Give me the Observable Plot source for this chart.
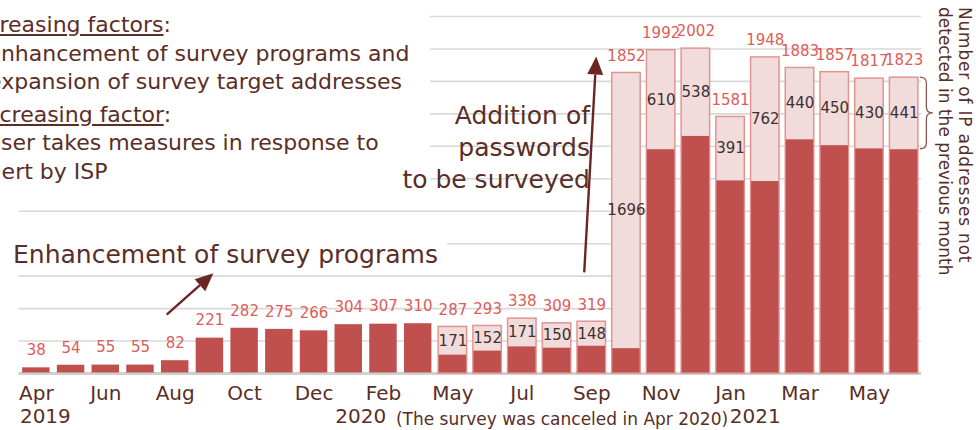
<!DOCTYPE html>
<html>
<head>
<meta charset="utf-8">
<script src="https://cdn.jsdelivr.net/npm/d3@7"></script>
<script src="https://cdn.jsdelivr.net/npm/@observablehq/plot@0.6"></script>
<style>
  body { margin: 0; background: #fff; }
  #wrap { position: relative; width: 976px; height: 430px; overflow: hidden;
          font-family: "DejaVu Sans", sans-serif; color: #5a2e26; }
  #wrap svg { position: absolute; left: 0; top: 0; }
  .box { position: absolute; background: #fff; white-space: nowrap; }
  #factors { left: 0; top: 0; width: 430px; height: 198px; font-size: 22px; line-height: 28.5px; padding-top: 11px; box-sizing: border-box; overflow: hidden; }
  #factors div { white-space: nowrap; }
  #factors .u { text-decoration: underline; text-underline-offset: 2px; }
  #enh { left: 0; top: 238px; width: 447px; height: 34px; font-size: 25px; line-height: 34px; padding-left: 13px; box-sizing: border-box; }
  #pw { position: absolute; right: 386px; top: 100px; font-size: 25px; line-height: 32px; text-align: right; white-space: nowrap; }
  #side { position: absolute; left: 935px; top: 7px; writing-mode: vertical-rl; font-size: 17px; line-height: 20px; white-space: nowrap; }
  #side .l1 { letter-spacing: 0.8px; }
</style>
</head>
<body>
<div id="wrap">
  <div class="box" id="factors">
    <div style="margin-left:-33px"><span class="u">Increasing factors</span>:</div>
    <div style="margin-left:-13px">Enhancement of survey programs and</div>
    <div style="margin-left:-12px">expansion of survey target addresses</div>
    <div style="margin-left:-31px;margin-top:4px"><span class="u">Decreasing factor</span>:</div>
    <div style="margin-left:-15px">User takes measures in response to</div>
    <div style="margin-left:-18px">alert by ISP</div>
  </div>
  <div class="box" id="enh">Enhancement of survey programs</div>
  <div id="pw">Addition of<br>passwords<br>to be surveyed</div>
  <div id="side"><span class="l1">Number of IP addresses not</span><br>detected in the previous month</div>
</div>
<script>
// ---- data ----
const months = [
  "2019-04","2019-05","2019-06","2019-07","2019-08","2019-09","2019-10","2019-11","2019-12",
  "2020-01","2020-02","2020-03","2020-05","2020-06","2020-07","2020-08","2020-09","2020-10",
  "2020-11","2020-12","2021-01","2021-02","2021-03","2021-04","2021-05","2021-06"
];
const totals = [38,54,55,55,82,221,282,275,266,304,307,310,287,293,338,309,319,1852,1992,2002,1581,1948,1883,1857,1817,1823];
const notDetectedPrev = [null,null,null,null,null,null,null,null,null,null,null,null,171,152,171,150,148,1696,610,538,391,762,440,450,430,441];
const tickMonths = ["2019-04","2019-06","2019-08","2019-10","2019-12","2020-02","2020-05","2020-07","2020-09","2020-11","2021-01","2021-03","2021-05"];
const tickLabels = ["Apr","Jun","Aug","Oct","Dec","Feb","May","Jul","Sep","Nov","Jan","Mar","May"];
const yearMonths = ["2019-04","2020-01","2021-02"];
const yearLabels = ["2019","2020","2021"];
const gridValues = [200,400,600,800,1000,1200,1400,1600,1800,2000,2200];
const noteMonth = "2020-08";
const noteText = "(The survey was canceled in Apr 2020)";
const arrowsAt = [
  {from: "2019-08", fromValue: 360, to: "2019-09", toValue: 615},
  {from: "2020-09", fromValue: 620, to: "2020-09", toValue: 1950}
];

// ---- derived table ----
const rows = months.map((m, i) => ({
  month: m,
  total: totals[i],
  fresh: notDetectedPrev[i],
  base: notDetectedPrev[i] == null ? totals[i] : totals[i] - notDetectedPrev[i]
}));
const stacked = rows.filter(d => d.fresh != null);

// ---- layout / style ----
const TEXT = "#5a2e26";
const arrowOffsets = [[-8, 4], [-7, 5]];
const yearDx = [9, 12, -10];

const bwOf = x => typeof x.bandwidth === "function" ? x.bandwidth() : (x.bandwidth || 0);
const center = (x, m) => x(m) + bwOf(x) / 2;

function annotations(index, scales) {
  const x = scales.x, y = scales.y;
  const svgNS = "http://www.w3.org/2000/svg";
  const g = document.createElementNS(svgNS, "g");
  arrowsAt.forEach((a, i) => {
    const x1 = center(x, a.from) + arrowOffsets[i][0], y1 = y(a.fromValue);
    const x2 = center(x, a.to) + arrowOffsets[i][1], y2 = y(a.toValue);
    const ang = Math.atan2(y2 - y1, x2 - x1);
    const L = 18, W = 8;
    const bx = x2 - L * Math.cos(ang), by = y2 - L * Math.sin(ang);
    const line = document.createElementNS(svgNS, "line");
    line.setAttribute("x1", x1); line.setAttribute("y1", y1);
    line.setAttribute("x2", bx); line.setAttribute("y2", by);
    line.setAttribute("stroke", "#6b2623"); line.setAttribute("stroke-width", 2.4);
    g.appendChild(line);
    const px = -Math.sin(ang), py = Math.cos(ang);
    const tri = document.createElementNS(svgNS, "path");
    tri.setAttribute("d", `M${x2},${y2}L${bx + px * W},${by + py * W}L${bx - px * W},${by - py * W}Z`);
    tri.setAttribute("fill", "#6b2623");
    g.appendChild(tri);
  });
  // brace on the last bar's light segment
  const last = stacked[stacked.length - 1];
  const x0 = x(last.month) + bwOf(x) + 2;
  const yT = y(last.total), yB = y(last.base), yM = (yT + yB) / 2;
  const h = 6.5, r = 6;
  const brace = document.createElementNS(svgNS, "path");
  brace.setAttribute("d",
    `M${x0},${yT}Q${x0 + h},${yT} ${x0 + h},${yT + r}L${x0 + h},${yM - r}Q${x0 + h},${yM} ${x0 + 2 * h},${yM}` +
    `Q${x0 + h},${yM} ${x0 + h},${yM + r}L${x0 + h},${yB - r}Q${x0 + h},${yB} ${x0},${yB}`);
  brace.setAttribute("fill", "none");
  brace.setAttribute("stroke", "#8a5a52");
  brace.setAttribute("stroke-width", 1.3);
  g.appendChild(brace);
  return g;
}

const chart = Plot.plot({
  width: 976,
  height: 430,
  marginLeft: 18.5,
  marginRight: 55,
  marginTop: 16,
  marginBottom: 57,
  style: {fontFamily: "DejaVu Sans, sans-serif", color: TEXT, background: "transparent", overflow: "visible"},
  x: {type: "band", domain: months, paddingInner: 0.18, paddingOuter: 0.09, round: false, axis: null},
  y: {domain: [0, 2200], axis: null},
  marks: [
    Plot.ruleY(gridValues, {stroke: "#d9d9d9", strokeWidth: 1.6}),
    Plot.ruleY([0], {stroke: "#d0d0d0", strokeWidth: 3}),
    Plot.barY(stacked, {x: "month", y1: 0, y2: "total", fill: "#f2dcdb", stroke: "#e09593", strokeWidth: 1.5}),
    Plot.barY(rows, {x: "month", y1: 0, y2: "base", fill: "#c0504d", inset: 0.5}),
    Plot.text(rows, {x: "month", y: "total", text: d => String(d.total), dy: -17, fill: "#dd5d58", fontSize: 15}),
    Plot.text(stacked, {x: "month", y: d => d.base + d.fresh / 2, text: d => String(d.fresh), fill: "#40302e", fontSize: 15}),
    Plot.text(tickMonths, {x: d => d, text: (d, i) => tickLabels[i], frameAnchor: "bottom", lineAnchor: "bottom", dy: 26, fontSize: 20, fill: TEXT}),
    ...yearMonths.map((m, i) => Plot.text([m], {x: d => d, text: () => yearLabels[i], frameAnchor: "bottom", lineAnchor: "bottom", dy: 49, dx: yearDx[i], fontSize: 20, fill: TEXT})),
    Plot.text([noteMonth], {x: d => d, text: () => noteText, frameAnchor: "bottom", lineAnchor: "bottom", dy: 51, dx: 5, fontSize: 17, fill: TEXT}),
    annotations
  ]
});
document.getElementById("wrap").prepend(chart);
</script>
</body>
</html>
